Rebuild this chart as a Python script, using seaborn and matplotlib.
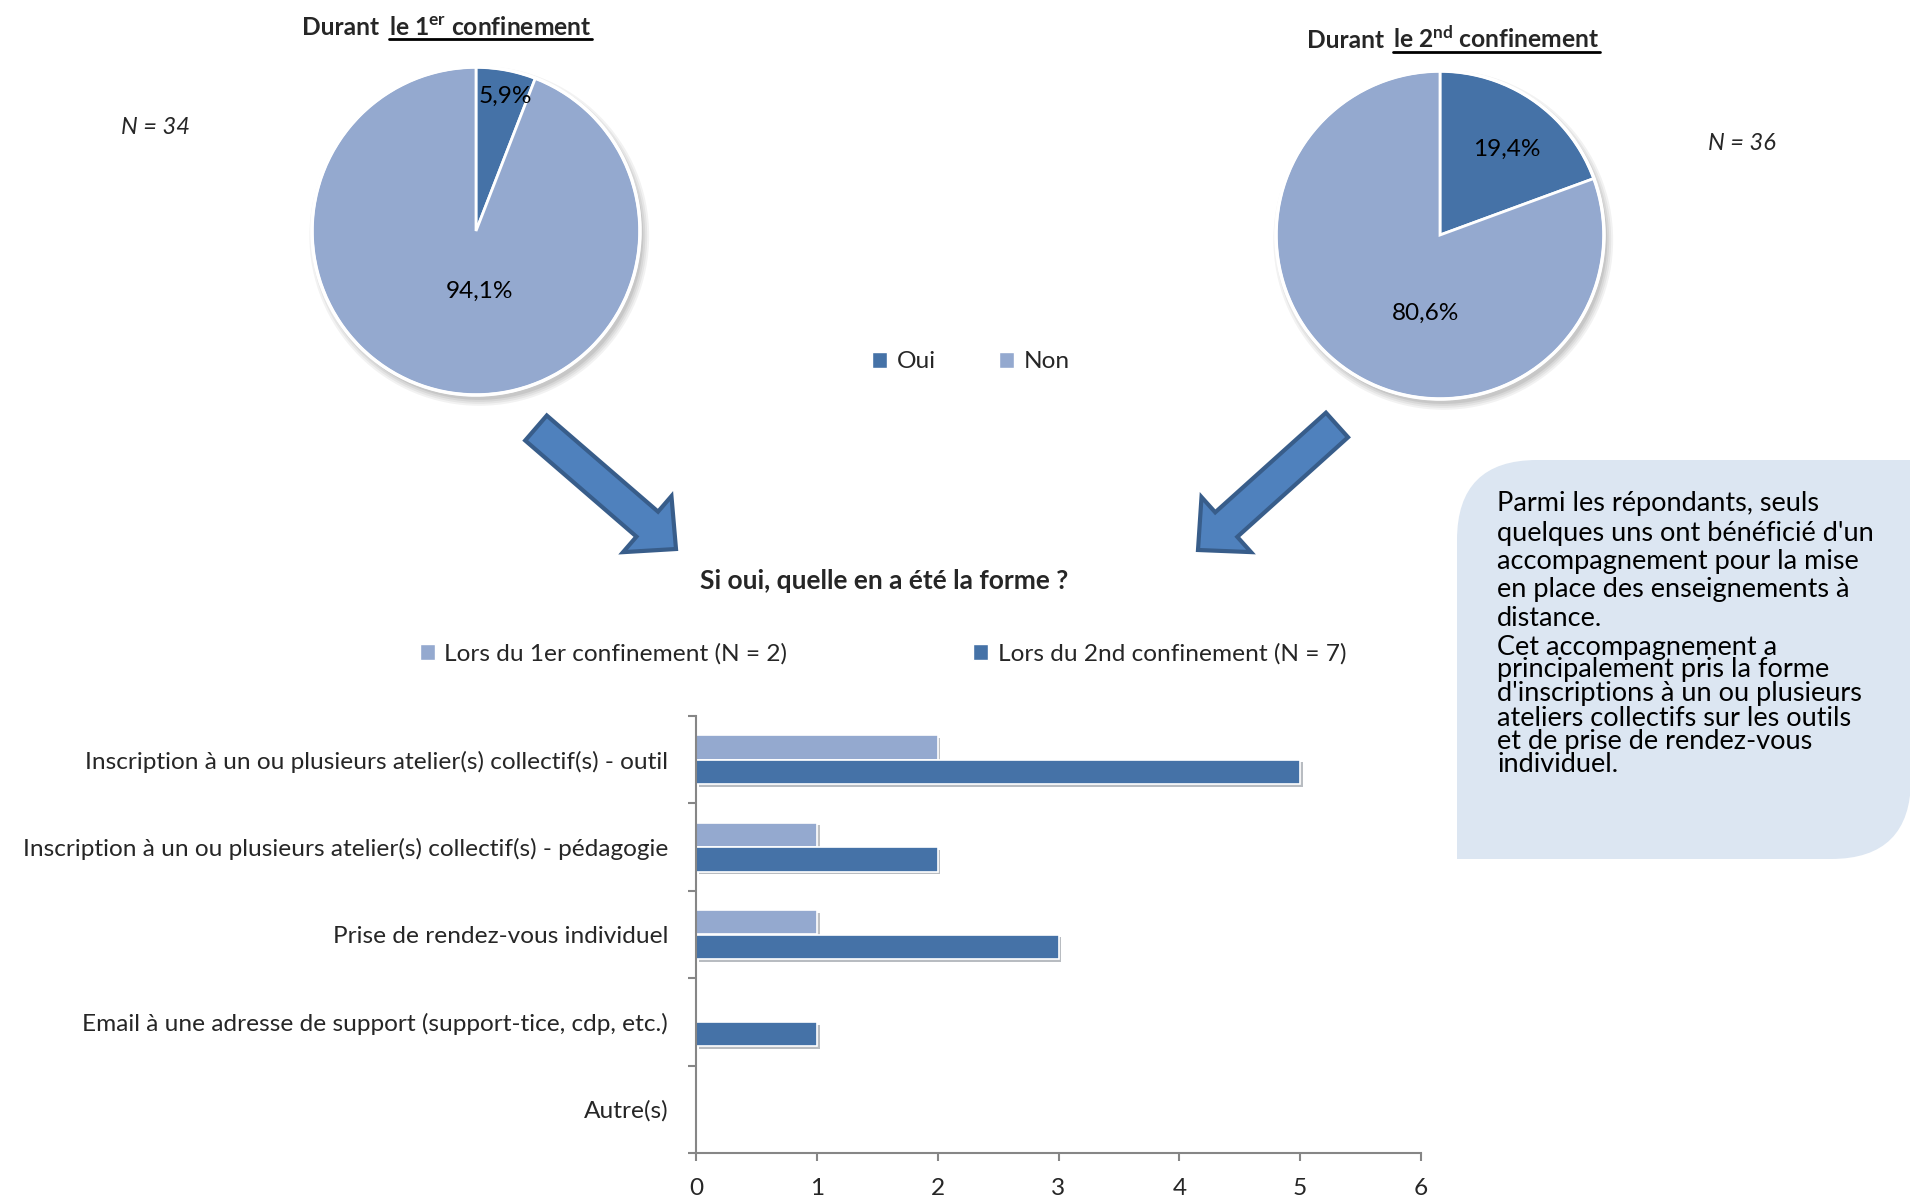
import numpy as np
import pandas as pd
import matplotlib
matplotlib.use("Agg")
import matplotlib.pyplot as plt
import matplotlib.patheffects as pe
import seaborn as sns
from matplotlib.patches import Patch, PathPatch, Polygon, Circle
from matplotlib.path import Path
from matplotlib.lines import Line2D
from matplotlib.transforms import Affine2D

# --- pie data ---
pie_labels = ["Oui", "Non"]
pie1_values = [5.9, 94.1]
pie2_values = [19.4, 80.6]
pie1_n = "N = 34"
pie2_n = "N = 36"

# --- bar data ---
categories = [
    "Inscription à un ou plusieurs atelier(s) collectif(s) - outil",
    "Inscription à un ou plusieurs atelier(s) collectif(s) - pédagogie",
    "Prise de rendez-vous individuel",
    "Email à une adresse de support (support-tice, cdp, etc.)",
    "Autre(s)",
]
conf1_values = [2, 1, 1, 0, 0]
conf2_values = [5, 2, 3, 1, 0]
series_names = ["Lors du 1er confinement (N = 2)", "Lors du 2nd confinement (N = 7)"]
x_ticks = [0, 1, 2, 3, 4, 5, 6]

box_lines = [
    "Parmi les répondants, seuls",
    "quelques uns ont bénéficié d'un",
    "accompagnement pour la mise",
    "en place des enseignements à",
    "distance.",
    "Cet accompagnement a",
    "principalement pris la forme",
    "d'inscriptions à un ou plusieurs",
    "ateliers collectifs sur les outils",
    "et de prise de rendez-vous",
    "individuel.",
]

DARK = "#4572A7"
LIGHT = "#94A9CF"
AXIS = "#868686"
BOX = "#DCE6F2"
ARROW = "#4F81BD"
ARROW_EDGE = "#385D8A"
FS = 17.6
TS = 17.7

sns.set_theme(style="white")
plt.rcParams["font.family"] = ["Lato", "DejaVu Sans"]
plt.rcParams["mathtext.fontset"] = "custom"
plt.rcParams["mathtext.rm"] = "Lato"
plt.rcParams["mathtext.bf"] = "Lato:bold"
plt.rcParams["mathtext.it"] = "Lato:italic"

W, H = 1910, 1201
fig = plt.figure(figsize=(W / 100, H / 100), dpi=100)
fig.patch.set_facecolor("white")
px = Affine2D().scale(1 / W, -1 / H).translate(0, 1) + fig.transFigure


def px_axes(x0, y0, x1, y1):
    return fig.add_axes([x0 / W, 1 - y1 / H, (x1 - x0) / W, (y1 - y0) / H])


def draw_pie(cx, cy, r, values, label_pos):
    pad = 1.1
    ax = px_axes(cx - r * pad, cy - r * pad, cx + r * pad, cy + r * pad)
    # soft shadow
    for i, a in enumerate([0.05, 0.05, 0.06, 0.07]):
        ax.add_patch(Circle((0.02, -0.03), 1.0 + 0.012 * (3 - i), color="black",
                            alpha=a, zorder=0, lw=0))
    wedges, _ = ax.pie(values, colors=[DARK, LIGHT], startangle=90, counterclock=False,
                       wedgeprops=dict(edgecolor="white", linewidth=2))
    ax.add_patch(Circle((0, 0), 1.0, fill=False, ec="white", lw=2.5, zorder=3))
    ax.set_xlim(-pad, pad)
    ax.set_ylim(-pad, pad)
    ax.set_aspect("equal")
    ax.axis("off")
    for v, (lx, ly) in zip(values, label_pos):
        ax.text(lx, ly, f"{v:.1f}%".replace(".", ","),
                ha="center", va="center", fontsize=FS, color="black", zorder=5)
    return ax


draw_pie(476, 231, 164, pie1_values, [(0.18, 0.82), (0.02, -0.37)])
draw_pie(1440, 235, 164, pie2_values, [(0.41, 0.52), (-0.085, -0.48)])

fig.text(155 / W, 1 - 128 / H, pie1_n, ha="center", va="center", fontsize=17, style="italic")
fig.text(1742 / W, 1 - 143 / H, pie2_n, ha="center", va="center", fontsize=17, style="italic")

renderer = fig.canvas.get_renderer()


def pie_title(x_prefix, x_rest, base_y, sup):
    fig.text(x_prefix, base_y, "Durant", transform=px, ha="left", va="baseline",
             fontsize=TS, fontweight="bold")
    t = fig.text(x_rest, base_y, "le " + sup[0] + r"$^{\mathbf{" + sup[1] + "}}$ confinement",
                 transform=px, ha="left", va="baseline", fontsize=TS, fontweight="bold")
    bb = t.get_window_extent(renderer)
    fig.add_artist(Line2D([x_rest, bb.x1], [base_y + 4, base_y + 4], transform=px,
                          color="black", lw=2))


pie_title(302, 389, 35, ("1", "er"))
pie_title(1307, 1393, 48, ("2", "nd"))

# pie legend
fig.legend([Patch(facecolor=DARK), Patch(facecolor=LIGHT)], pie_labels, loc="center",
           bbox_to_anchor=(971 / W, 1 - 362 / H), ncol=2, frameon=False,
           handlelength=0.6, handleheight=0.6, handletextpad=0.4, columnspacing=2.6,
           fontsize=FS)


# arrows
def block_arrow(tail, tip, shaft_w=33, head_w=74, head_len=38):
    tail = np.array(tail, float)
    tip = np.array(tip, float)
    d = tip - tail
    L = np.hypot(*d)
    u = d / L
    n = np.array([-u[1], u[0]])
    base = tip - u * head_len
    pts = [tail + n * shaft_w / 2, base + n * shaft_w / 2, base + n * head_w / 2, tip,
           base - n * head_w / 2, base - n * shaft_w / 2, tail - n * shaft_w / 2]
    fig.add_artist(Polygon(pts, closed=True, transform=px, facecolor=ARROW,
                           edgecolor=ARROW_EDGE, lw=3, joinstyle="miter"))


block_arrow((536, 428), (676, 549))
block_arrow((1337, 425), (1198, 550))

# text box with two rounded corners
x0, y0, x1, y1, R = 1457, 460, 1911, 859, 80
verts = [(x0, y0 + R), (x0, y0), (x0 + R, y0), (x1, y0), (x1, y1 - R), (x1, y1),
         (x1 - R, y1), (x0, y1), (x0, y0 + R)]
codes = [Path.MOVETO, Path.CURVE3, Path.CURVE3, Path.LINETO, Path.LINETO, Path.CURVE3,
         Path.CURVE3, Path.LINETO, Path.CLOSEPOLY]
fig.add_artist(PathPatch(Path(verts, codes), transform=px, facecolor=BOX, edgecolor="none"))
line_y = [503, 533, 562, 590, 618, 647, 670, 694, 718, 742, 765]
for txt, ly in zip(box_lines, line_y):
    fig.text(1497, ly, txt, transform=px, ha="left", va="center", fontsize=19.5, color="black")

# bar chart
fig.text(884 / W, 1 - 581 / H, "Si oui, quelle en a été la forme ?", ha="center", va="center",
         fontsize=19, fontweight="bold")

df = pd.DataFrame({
    "categorie": categories * 2,
    "valeur": conf1_values + conf2_values,
    "serie": [series_names[0]] * len(categories) + [series_names[1]] * len(categories),
})
ax = px_axes(696, 716, 1421, 1153)
sns.barplot(data=df, y="categorie", x="valeur", hue="serie", order=categories,
            hue_order=series_names, palette=[LIGHT, DARK], saturation=1, width=0.56,
            orient="h", legend=False, edgecolor="white", linewidth=1.2, ax=ax)
for p in ax.patches:
    p.set_path_effects([pe.SimplePatchShadow(offset=(2, -2), alpha=0.3), pe.Normal()])
ax.set_xlim(0, 6)
ax.set_ylim(4.5, -0.5)
ax.set_xlabel("")
ax.set_ylabel("")
ax.set_xticks(x_ticks)
ax.set_yticks(np.arange(-0.5, len(categories), 1))
ax.set_yticklabels([])
ax.set_yticks(range(len(categories)), minor=True)
ax.set_yticklabels(categories, minor=True)
ax.tick_params(axis="y", which="major", left=True, length=6, width=1.5, color=AXIS,
               direction="out")
ax.tick_params(axis="y", which="minor", left=True, length=0, pad=20, labelsize=FS)
ax.tick_params(axis="x", bottom=True, length=6, width=1.5, color=AXIS, direction="out",
               pad=12, labelsize=FS)
sns.despine(ax=ax)
for s in ["left", "bottom"]:
    ax.spines[s].set_color(AXIS)
    ax.spines[s].set_linewidth(1.5)
    ax.spines[s].set_zorder(5)
ax.grid(False)

fig.legend([Patch(facecolor=LIGHT), Patch(facecolor=DARK)], series_names, loc="center",
           bbox_to_anchor=(883 / W, 1 - 654 / H), ncol=2, frameon=False,
           handlelength=0.6, handleheight=0.6, handletextpad=0.4, columnspacing=7.6,
           fontsize=FS)

fig.savefig("out.png", dpi=100, facecolor="white")
